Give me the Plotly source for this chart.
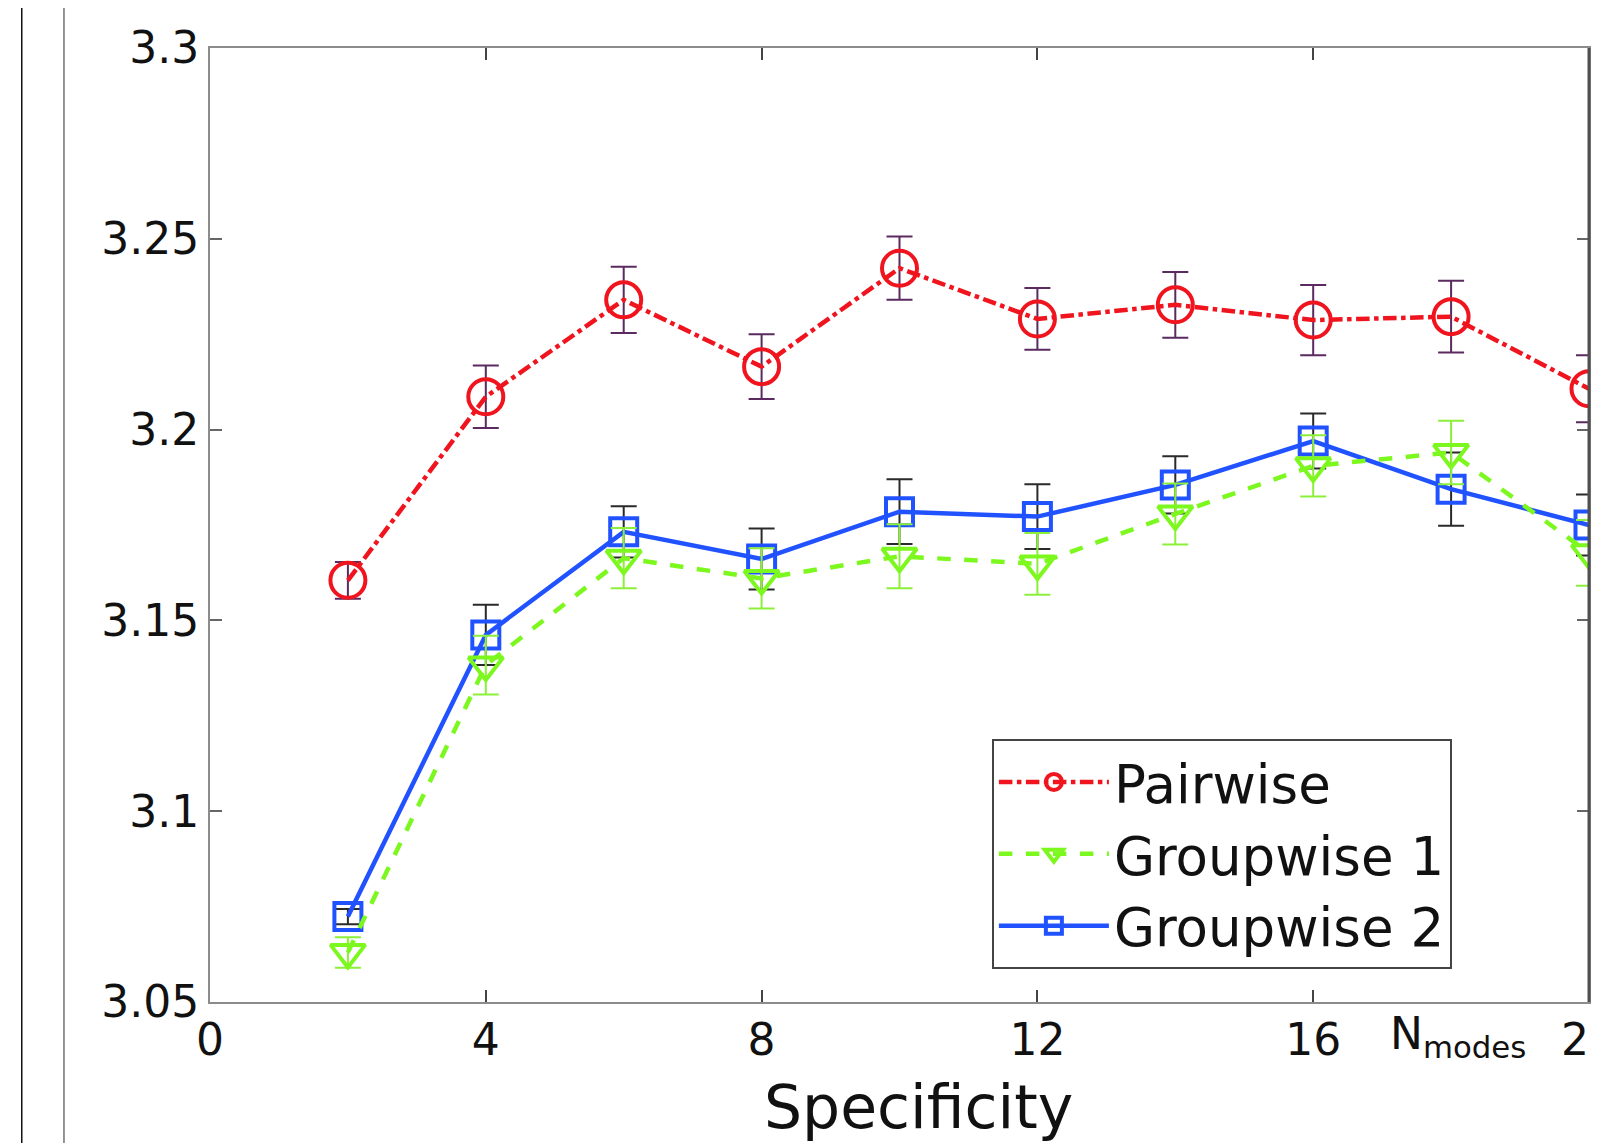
import plotly.graph_objects as go

# ---- data ----
n_modes = [2, 4, 6, 8, 10, 12, 14, 16, 18, 20]

pairwise = [3.1605, 3.2086, 3.2340, 3.2165, 3.2423, 3.2290, 3.2327, 3.2287, 3.2296, 3.2107]
pairwise_err = [0.0048, 0.0082, 0.0087, 0.0085, 0.0083, 0.0081, 0.0086, 0.0092, 0.0094, 0.0088]

groupwise1 = [3.0630, 3.1383, 3.1663, 3.1610, 3.1668, 3.1648, 3.1779, 3.1905, 3.1940, 3.1677]
groupwise1_err = [0.0040, 0.0077, 0.0079, 0.0079, 0.0084, 0.0081, 0.0080, 0.0080, 0.0083, 0.0086]

groupwise2 = [3.0724, 3.1462, 3.1732, 3.1661, 3.1785, 3.1772, 3.1855, 3.1970, 3.1844, 3.1750]
groupwise2_err = [0.0020, 0.0079, 0.0067, 0.0080, 0.0085, 0.0085, 0.0075, 0.0072, 0.0096, 0.0080]

x_ticks = [0, 4, 8, 12, 16, 20]
y_ticks = [3.05, 3.1, 3.15, 3.2, 3.25, 3.3]
y_tick_labels = ["3.05", "3.1", "3.15", "3.2", "3.25", "3.3"]

FONT = "DejaVu Sans, Liberation Sans, Arial, sans-serif"

fig = go.Figure()

fig.add_trace(go.Scatter(
    x=n_modes, y=groupwise2, name="Groupwise 2", mode="lines+markers",
    line=dict(color="#2152ff", width=4.5, dash="solid"),
    marker=dict(symbol="square-open", size=27, color="#2152ff", line=dict(width=4, color="#2152ff")),
    error_y=dict(type="data", array=groupwise2_err, visible=True, color="#2a2a2a", thickness=2, width=13),
))
fig.add_trace(go.Scatter(
    x=n_modes, y=groupwise1, name="Groupwise 1", mode="lines+markers",
    line=dict(color="#7cf81e", width=4.5, dash="dash"),
    marker=dict(symbol="triangle-down-open", size=30, color="#7cf81e", line=dict(width=4, color="#7cf81e")),
    error_y=dict(type="data", array=groupwise1_err, visible=True, color="#8cf03a", thickness=2, width=13),
))
fig.add_trace(go.Scatter(
    x=n_modes, y=pairwise, name="Pairwise", mode="lines+markers",
    line=dict(color="#f0141e", width=4.5, dash="dashdot"),
    marker=dict(symbol="circle-open", size=35, color="#f0141e", line=dict(width=4, color="#f0141e")),
    error_y=dict(type="data", array=pairwise_err, visible=True, color="#5a2a60", thickness=2, width=13),
))

fig.update_layout(
    width=1591, height=1135,
    margin=dict(l=202, r=10, t=40, b=141, autoexpand=False),
    paper_bgcolor="white", plot_bgcolor="white",
    font=dict(family=FONT, color="#111111", size=44),
    showlegend=True,
    legend=dict(
        x=0.567, y=0.2757, xanchor="left", yanchor="top",
        bgcolor="white", bordercolor="#444444", borderwidth=2,
        font=dict(family=FONT, size=53, color="#111111"),
        traceorder="reversed", itemwidth=110,
    ),
    xaxis=dict(
        range=[0, 20], tickmode="array", tickvals=x_ticks,
        ticktext=[str(v) for v in x_ticks],
        ticks="inside", ticklen=12, tickwidth=2, tickcolor="#444444",
        showline=True, linecolor="#8c8c8c", linewidth=2, mirror="ticks",
        showgrid=False, zeroline=False, ticklabelstandoff=-2,
        ticklabeloverflow="allow", automargin=False,
        tickfont=dict(family=FONT, size=44, color="#111111"),
    ),
    yaxis=dict(
        range=[3.05, 3.3], tickmode="array", tickvals=y_ticks, ticktext=y_tick_labels,
        ticks="inside", ticklen=12, tickwidth=2, tickcolor="#666666",
        showline=True, linecolor="#8c8c8c", linewidth=2, mirror="ticks",
        showgrid=False, zeroline=False, ticklabelstandoff=0, automargin=False,
        tickfont=dict(family=FONT, size=44, color="#111111"),
    ),
    annotations=[
        dict(text="Specificity", xref="paper", yref="paper", x=0.514, y=-0.0713,
             xanchor="center", yanchor="top", showarrow=False,
             font=dict(family=FONT, size=60, color="#111111")),
        dict(text="N<sub>modes</sub>", xref="paper", yref="paper", x=0.905, y=-0.036,
             xanchor="center", yanchor="middle", showarrow=False,
             font=dict(family=FONT, size=44, color="#111111")),
    ],
    shapes=[
        dict(type="line", xref="paper", yref="paper", x0=1, x1=1, y0=0, y1=1,
             line=dict(color="#505050", width=3)),
        dict(type="line", xref="paper", yref="paper", x0=-0.1365, x1=-0.1365, y0=-0.16, y1=1.05,
             line=dict(color="#111111", width=1.5)),
        dict(type="line", xref="paper", yref="paper", x0=-0.1059, x1=-0.1059, y0=-0.16, y1=1.05,
             line=dict(color="#707070", width=1.5)),
    ],
)

fig.write_html("out.html")
